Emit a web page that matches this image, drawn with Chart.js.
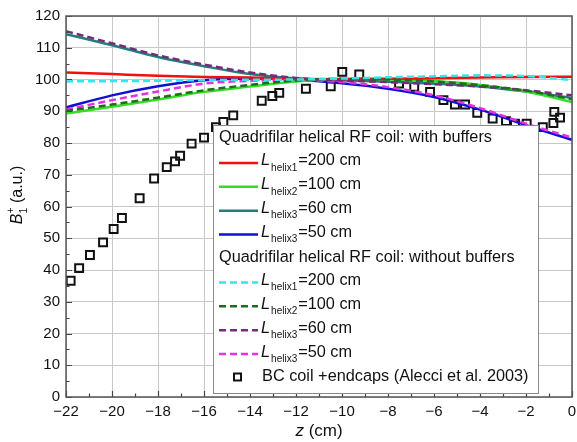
<!DOCTYPE html>
<html>
<head>
<meta charset="utf-8">
<script src="https://cdn.jsdelivr.net/npm/chart.js@4.4.1/dist/chart.umd.min.js"></script>
<style>
  html, body { margin: 0; padding: 0; background: #fff; }
  #wrap { width: 577px; height: 442px; }
</style>
</head>
<body>
<div id="wrap"><canvas id="chart" width="577" height="442"></canvas></div>
<script>
const FONT = '"Liberation Sans", Arial, Helvetica, sans-serif';

// z positions (cm) where the simulated curves were read off
const zCurve = [-22, -20, -18, -16, -14, -12, -10, -8, -6, -4, -2, 0];

// Quadrifilar helical RF coil: with buffers
const withL200 = [102.2, 101.7, 101.2, 100.8, 100.6, 100.2, 100.1, 100.2, 100.4, 100.6, 100.8, 100.9];
const withL100 = [89.3, 91.4, 93.7, 96.1, 97.8, 99.4, 100.2, 100.1, 99.5, 98.3, 96.2, 92.9];
const withL60  = [114.3, 110.8, 107.1, 104.2, 101.7, 100.3, 99.8, 99.3, 98.7, 97.8, 96.2, 94.2];
const withL50  = [91.2, 95.0, 97.9, 99.8, 100.3, 100.0, 98.8, 97.1, 94.5, 90.5, 85.6, 81.0];

// Quadrifilar helical RF coil: without buffers
const noBufL200 = [99.4, 99.5, 99.6, 99.8, 99.9, 100.0, 100.3, 100.7, 101.0, 101.3, 101.1, 99.8];
const noBufL100 = [90.1, 92.1, 94.3, 96.6, 98.3, 99.7, 100.2, 100.0, 99.4, 98.2, 96.5, 93.8];
const noBufL60  = [115.2, 111.4, 107.6, 104.7, 102.2, 100.5, 99.7, 99.2, 98.5, 97.8, 96.6, 95.0];
const noBufL50  = [90.5, 93.5, 96.2, 98.7, 99.6, 99.8, 99.2, 97.6, 95.0, 91.0, 86.1, 81.7];

// BC coil + endcaps (Alecci et al. 2003)
const bcZ = [-21.8, -21.43, -20.96, -20.39, -19.93, -19.57, -18.8, -18.17, -17.62, -17.26, -17.04,
             -16.54, -16.0, -15.48, -15.16, -14.73, -13.49, -13.03, -12.73, -11.57, -10.49, -9.99,
             -9.25, -7.52, -6.86, -6.17, -5.59, -5.09, -4.65, -4.12, -3.45, -2.87, -2.48, -1.97,
             -1.27, -0.81, -0.77, -0.52];
const bcB = [36.6, 40.6, 44.7, 48.7, 52.9, 56.4, 62.6, 68.8, 72.4, 74.2, 76.0,
             79.8, 81.7, 85.0, 86.6, 88.7, 93.3, 94.8, 95.8, 97.1, 97.9, 102.4,
             101.6, 98.7, 97.7, 96.1, 93.5, 92.1, 92.1, 89.5, 87.7, 86.9, 86.1, 86.1,
             85.0, 86.3, 89.8, 88.0];

const groupTitles = ['Quadrifilar helical RF coil: with buffers', 'Quadrifilar helical RF coil: without buffers'];
const lengthSubs = ['helix1', 'helix2', 'helix3', 'helix3'];
const lengthText = ['=200 cm', '=100 cm', '=60 cm', '=50 cm'];
const bcLabel = 'BC coil +endcaps (Alecci et al. 2003)';

const toXY = (ys) => ys.map((y, i) => ({ x: zCurve[i], y }));

function curve(label, ys, color, dashed) {
  return {
    type: 'line',
    label,
    data: toXY(ys),
    borderColor: color,
    backgroundColor: color,
    borderWidth: 2.5,
    borderDash: dashed ? [7, 4] : [],
    pointRadius: 0,
    tension: 0.4,
    cubicInterpolationMode: 'monotone',
    fill: false,
    order: dashed ? 1 : 2
  };
}

const datasets = [
  curve('with 200', withL200, '#f01010', false),
  curve('with 100', withL100, '#33dd22', false),
  curve('with 60', withL60, '#1f7f7a', false),
  curve('with 50', withL50, '#1010d0', false),
  curve('without 200', noBufL200, '#33e6ee', true),
  curve('without 100', noBufL100, '#1f6b1f', true),
  curve('without 60', noBufL60, '#762a7a', true),
  curve('without 50', noBufL50, '#e530e5', true),
  {
    type: 'scatter',
    label: 'BC',
    data: bcZ.map((z, i) => ({ x: z, y: bcB[i] })),
    pointStyle: 'rect',
    pointRadius: 5.6,
    pointBorderWidth: 2,
    borderColor: '#111',
    backgroundColor: 'rgba(0,0,0,0)',
    showLine: false,
    order: 3
  }
];

// inward ticks, frame, custom legend and axis titles
const decorations = {
  id: 'decorations',
  afterDatasetsDraw(chart) {
    const { ctx, chartArea: a, scales: { x, y } } = chart;
    ctx.save();

    // inward ticks
    ctx.strokeStyle = '#444';
    ctx.lineWidth = 1.2;
    ctx.beginPath();
    for (let v = -22; v <= 0; v += 1) {
      const px = Math.round(x.getPixelForValue(v)) + 0.5;
      const len = v % 2 === 0 ? 6 : 3.5;
      ctx.moveTo(px, a.bottom);
      ctx.lineTo(px, a.bottom - len);
    }
    for (let v = 0; v <= 120; v += 5) {
      const py = Math.round(y.getPixelForValue(v)) + 0.5;
      const len = v % 10 === 0 ? 6 : 3.5;
      ctx.moveTo(a.left, py);
      ctx.lineTo(a.left + len, py);
    }
    ctx.stroke();

    // legend box
    const lx = a.left + 147, ly = a.top + 109, lw = 325, lh = 268;
    ctx.fillStyle = '#fff';
    ctx.fillRect(lx, ly, lw, lh);
    ctx.strokeStyle = '#8a8a8a';
    ctx.lineWidth = 1;
    ctx.strokeRect(lx + 0.5, ly + 0.5, lw, lh);

    const rowY = (i) => ly + 13 + i * 23.9;
    ctx.textBaseline = 'middle';
    ctx.fillStyle = '#111';

    const drawGroup = (title, startRow, dsOffset) => {
      ctx.font = '16.3px ' + FONT;
      ctx.fillText(title, lx + 6, rowY(startRow));
      for (let k = 0; k < 4; k++) {
        const ds = chart.data.datasets[dsOffset + k];
        const ry = rowY(startRow + 1 + k);
        ctx.save();
        ctx.strokeStyle = ds.borderColor;
        ctx.lineWidth = 2.5;
        ctx.setLineDash(ds.borderDash);
        ctx.beginPath();
        ctx.moveTo(lx + 6, ry + 1);
        ctx.lineTo(lx + 45, ry + 1);
        ctx.stroke();
        ctx.restore();
        let tx = lx + 48;
        ctx.font = 'italic 16.3px ' + FONT;
        ctx.fillText('L', tx, ry - 1);
        tx += ctx.measureText('L').width + 1;
        ctx.font = '10px ' + FONT;
        ctx.fillText(lengthSubs[k], tx, ry + 6);
        tx += ctx.measureText(lengthSubs[k]).width + 1;
        ctx.font = '16.3px ' + FONT;
        ctx.fillText(lengthText[k], tx, ry - 1);
      }
    };
    drawGroup(groupTitles[0], 0, 0);
    drawGroup(groupTitles[1], 5, 4);

    // BC marker row
    const by = rowY(10);
    ctx.strokeStyle = '#111';
    ctx.lineWidth = 2;
    ctx.strokeRect(lx + 21, by - 3.5, 7, 7);
    ctx.font = '16.3px ' + FONT;
    ctx.fillText(bcLabel, lx + 49, by);

    // plot frame
    ctx.strokeStyle = '#555';
    ctx.lineWidth = 1.5;
    ctx.strokeRect(a.left, a.top, a.right - a.left, a.bottom - a.top);

    // x title: z (cm)
    ctx.fillStyle = '#111';
    ctx.textBaseline = 'middle';
    ctx.font = 'italic 17px ' + FONT;
    const zw = ctx.measureText('z').width;
    ctx.font = '17px ' + FONT;
    const cw = ctx.measureText(' (cm)').width;
    let xt = (a.left + a.right) / 2 - (zw + cw) / 2;
    ctx.font = 'italic 17px ' + FONT;
    ctx.fillText('z', xt, 431);
    ctx.font = '17px ' + FONT;
    ctx.fillText(' (cm)', xt + zw, 431);

    // y title: B1+ (a.u.)
    ctx.save();
    ctx.translate(18, 195);
    ctx.rotate(-Math.PI / 2);
    ctx.font = 'italic 16px ' + FONT;
    const bw = ctx.measureText('B').width;
    ctx.font = '10.5px ' + FONT;
    const sw = ctx.measureText('+').width;
    ctx.font = '16px ' + FONT;
    const uw = ctx.measureText(' (a.u.)').width;
    let yt = -(bw + sw + uw) / 2;
    ctx.font = 'italic 16px ' + FONT;
    ctx.fillText('B', yt, 0);
    yt += bw;
    ctx.font = '10.5px ' + FONT;
    ctx.fillText('1', yt, 6);
    ctx.fillText('+', yt, -7);
    yt += sw;
    ctx.font = '16px ' + FONT;
    ctx.fillText(' (a.u.)', yt, 0);
    ctx.restore();

    ctx.restore();
  }
};

new Chart(document.getElementById('chart'), {
  data: { datasets },
  options: {
    responsive: false,
    animation: false,
    layout: { autoPadding: false, padding: { left: 29, right: 0, top: 16, bottom: 15 } },
    plugins: {
      legend: { display: false },
      tooltip: { enabled: false }
    },
    scales: {
      x: {
        type: 'linear',
        min: -22,
        max: 0,
        grid: { color: '#c8c8c8', lineWidth: 1, drawTicks: false },
        border: { display: false },
        ticks: {
          stepSize: 2,
          padding: 6,
          color: '#111',
          font: { family: FONT, size: 15 },
          callback: (v) => String(v).replace('-', '\u2212')
        },
        // keep the plot running almost to the right edge like the original
        afterFit: (s) => { s.paddingRight = 5; }
      },
      y: {
        min: 0,
        max: 120,
        grid: { color: '#c8c8c8', lineWidth: 1, drawTicks: false },
        border: { display: false },
        ticks: {
          stepSize: 10,
          padding: 6,
          color: '#111',
          font: { family: FONT, size: 15 }
        }
      }
    }
  },
  plugins: [decorations]
});
</script>
</body>
</html>
